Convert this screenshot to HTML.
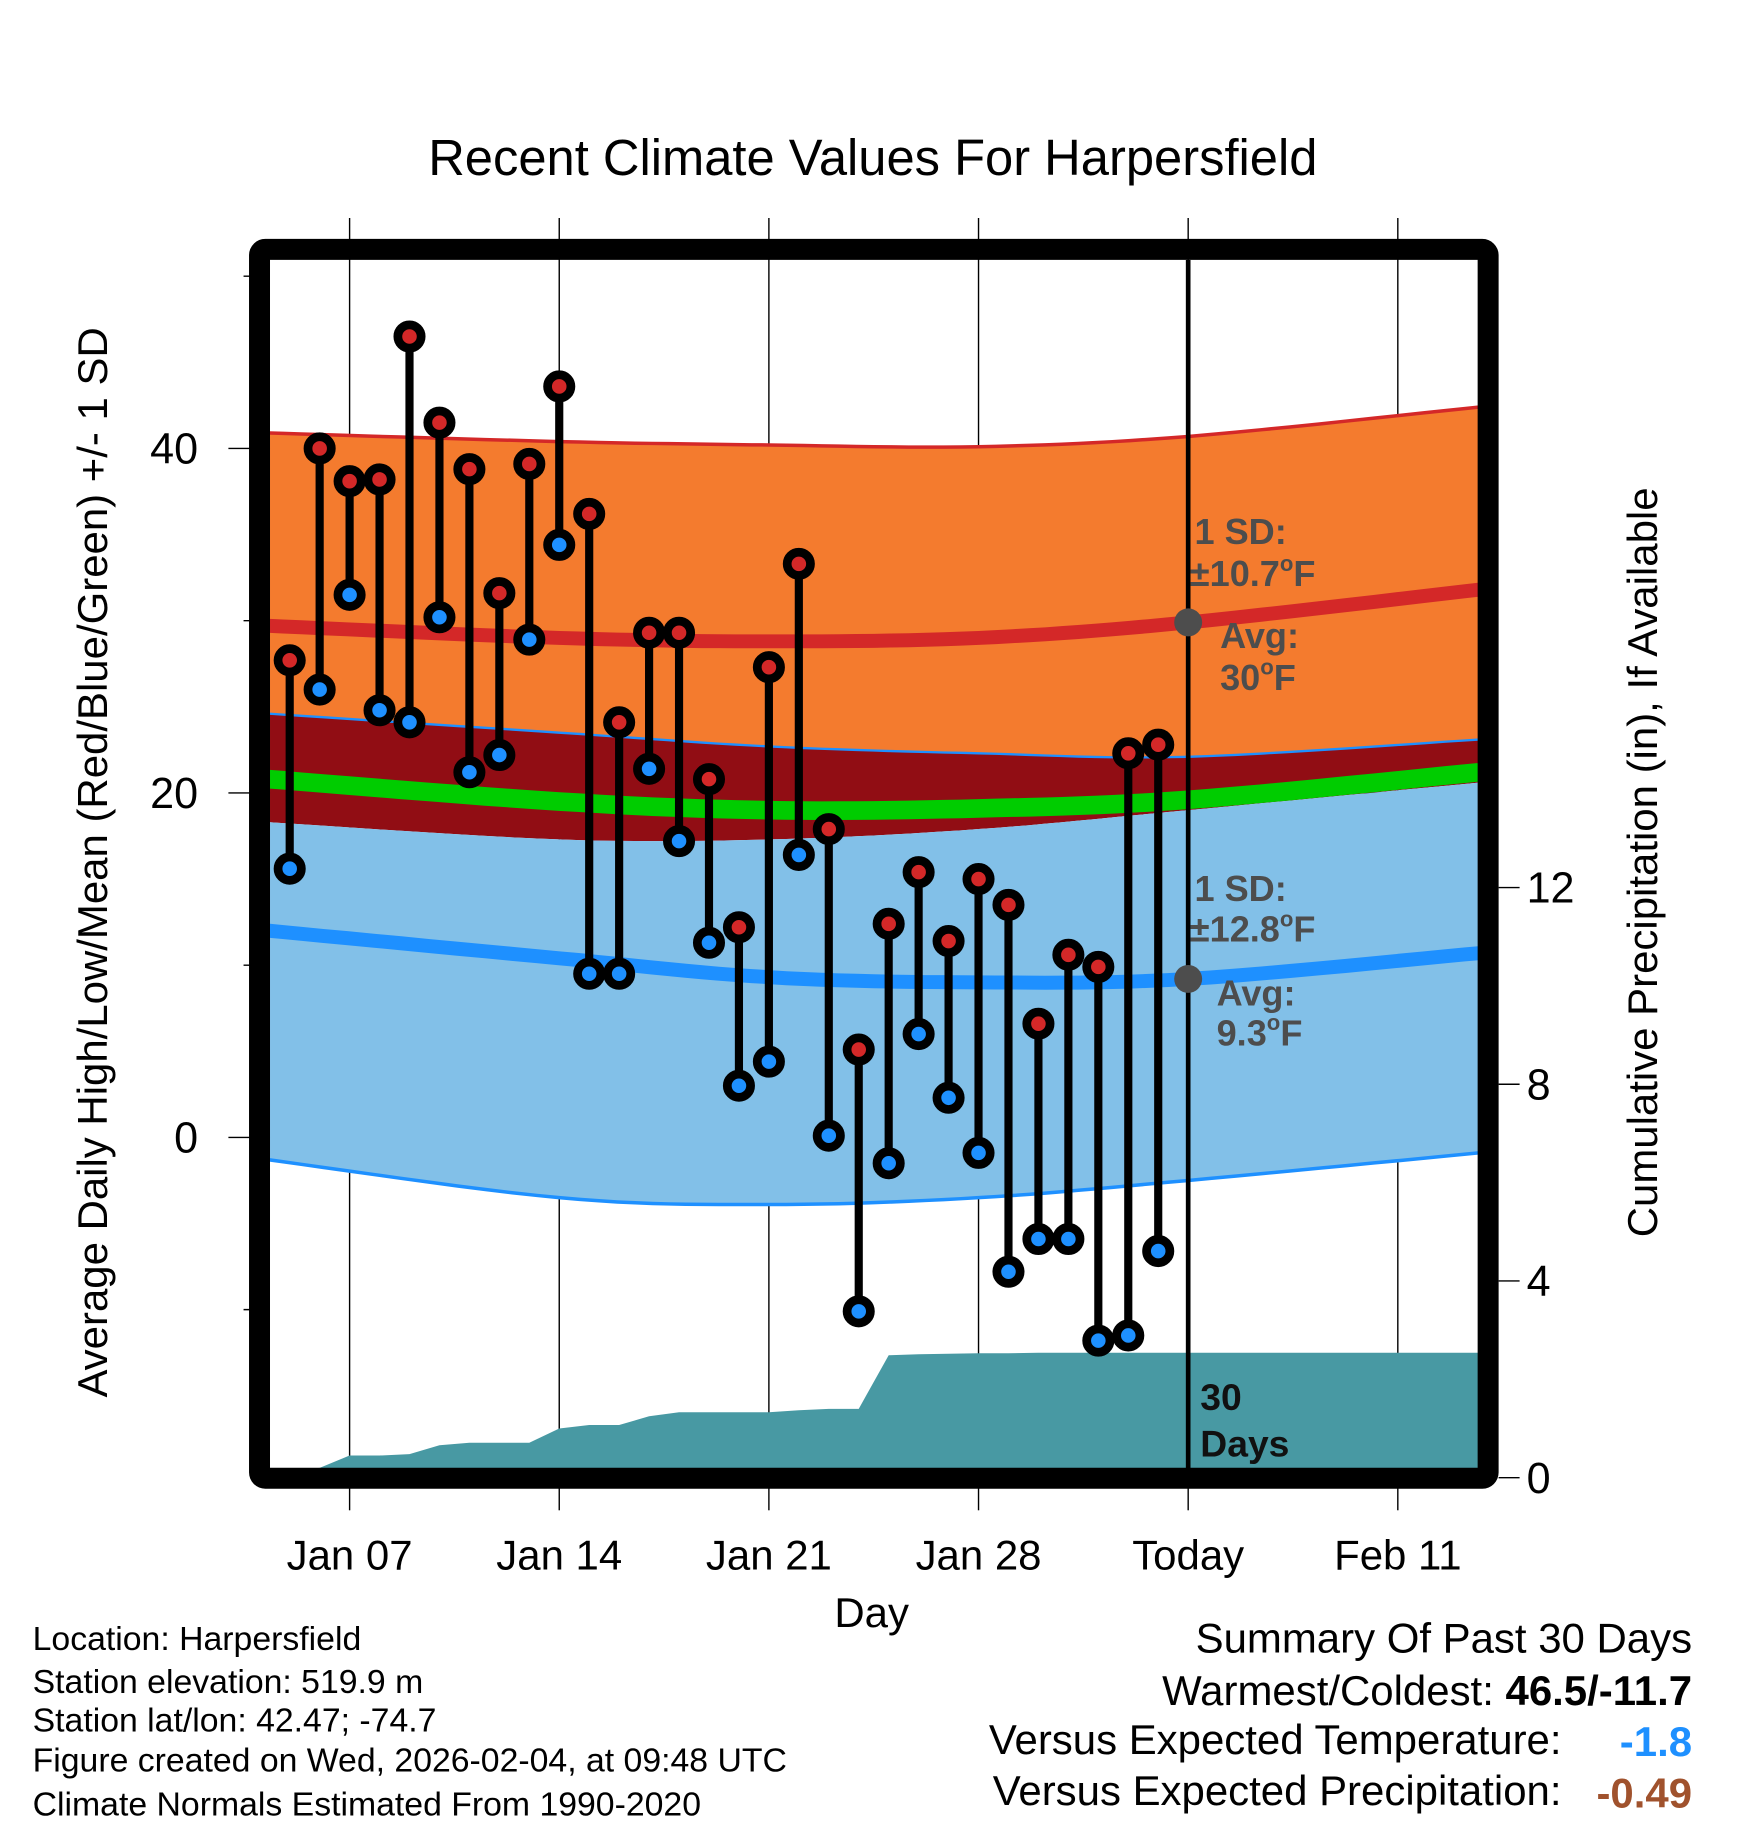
<!DOCTYPE html>
<html><head><meta charset="utf-8"><style>
html,body{margin:0;padding:0;background:#fff}
svg{display:block;font-family:"Liberation Sans",Arial,sans-serif}
</style></head><body>
<svg id="chart" width="1748" height="1828" viewBox="0 0 1500 1568.6" xmlns="http://www.w3.org/2000/svg">
<defs><clipPath id="plotclip"><rect x="231.7" y="223" width="1036.7" height="1037"/></clipPath></defs>
<text x="749" y="150" font-size="43.5" text-anchor="middle">Recent Climate Values For Harpersfield</text>
<g id="grid"></g>
<g id="plot" clip-path="url(#plotclip)"></g>
<g id="marks"></g>
<rect x="222.7" y="214" width="1054.3" height="1054.5" rx="5" fill="none" stroke="#000" stroke-width="18"/>
<g id="axes"></g>
<g font-weight="bold" fill="#4d4d4d" font-size="31">
<text x="1025" y="467">1 SD:</text>
<text x="1021" y="503">±10.7<tspan font-size="19" dy="-13">o</tspan><tspan dy="13">F</tspan></text>
<text x="1047" y="556">Avg:</text>
<text x="1047" y="592">30<tspan font-size="19" dy="-13">o</tspan><tspan dy="13">F</tspan></text>
</g>
<g font-weight="bold" fill="#4d4d4d" font-size="31">
<text x="1025" y="773">1 SD:</text>
<text x="1021" y="808">±12.8<tspan font-size="19" dy="-13">o</tspan><tspan dy="13">F</tspan></text>
<text x="1044" y="863">Avg:</text>
<text x="1044" y="897">9.3<tspan font-size="19" dy="-13">o</tspan><tspan dy="13">F</tspan></text>
</g>
<g font-weight="bold" font-size="32" fill="#111">
<text x="1030" y="1210">30</text><text x="1030" y="1250">Days</text>
</g>
<text x="748" y="1396" font-size="36" text-anchor="middle">Day</text>
<text transform="translate(92,740) rotate(-90)" font-size="36" text-anchor="middle">Average Daily High/Low/Mean (Red/Blue/Green) +/- 1 SD</text>
<text transform="translate(1422,740) rotate(-90)" font-size="36" text-anchor="middle">Cumulative Precipitation (in), If Available</text>
<g font-size="29">
<text x="28" y="1416">Location: Harpersfield</text>
<text x="28" y="1453">Station elevation: 519.9 m</text>
<text x="28" y="1486">Station lat/lon: 42.47; -74.7</text>
<text x="28" y="1520">Figure created on Wed, 2026-02-04, at 09:48 UTC</text>
<text x="28" y="1558">Climate Normals Estimated From 1990-2020</text>
</g>
<g font-size="36" text-anchor="end">
<text x="1452" y="1418">Summary Of Past 30 Days</text>
<text x="1452" y="1463">Warmest/Coldest: <tspan font-weight="bold">46.5/-11.7</tspan></text>
<text x="1340" y="1505">Versus Expected Temperature:</text>
<text x="1452" y="1507" font-weight="bold" fill="#1e90ff">-1.8</text>
<text x="1340" y="1549">Versus Expected Precipitation:</text>
<text x="1452" y="1551" font-weight="bold" fill="#a0522d">-0.49</text>
</g>
</svg>
<script>
const highs=[27.7,40.0,38.1,38.2,46.5,41.5,38.8,31.6,39.1,43.6,36.2,24.1,29.3,29.3,20.8,12.2,27.3,33.3,17.9,5.1,12.4,15.4,11.4,15.0,13.5,6.6,10.6,9.9,22.3,22.8];
const lows=[15.6,26.0,31.5,24.8,24.1,30.2,21.2,22.2,28.9,34.4,9.5,9.5,21.4,17.2,11.3,3.0,4.4,16.4,0.1,-10.1,-1.5,6.0,2.3,-0.9,-7.8,-5.9,-5.9,-11.8,-11.5,-6.6];
const precip=[0.15,0.2,0.45,0.45,0.48,0.66,0.71,0.71,0.71,1.0,1.07,1.07,1.25,1.33,1.33,1.33,1.33,1.37,1.4,1.4,2.49,2.51,2.52,2.53,2.53,2.54,2.54,2.54,2.54,2.54];
const normDays=[-2.7,7,14,21,28,37.7];
const highMean=[29.7,29.0,28.8,29.0,29.9,31.8];
const highPlus=[40.9,40.4,40.2,40.1,40.7,42.4];
const highMinus=[24.6,23.5,22.7,22.3,22.1,23.1];
const meanTemp=[20.8,19.5,19.0,19.1,19.6,21.2];
const lowPlus=[18.3,17.3,17.3,17.9,19.0,20.6];
const lowMean=[12.0,10.4,9.3,9.0,9.2,10.7];
const lowMinus=[-1.3,-3.5,-3.9,-3.5,-2.5,-0.9];
const xTickDays=[0,7,14,21,28,35];
const xTickLabels=["Jan 07","Jan 14","Jan 21","Jan 28","Today","Feb 11"];
const yTicks=[40,20,0];
const yMinor=[50,30,10,-10];
const pTicks=[0,4,8,12];
const firstDay=-2;

const NS="http://www.w3.org/2000/svg";
const X=d=>300+25.7*d;
const Y=t=>976-14.78*t;
const P=p=>1268-42.2*p;
function mk(tag,attrs,parent){const e=document.createElementNS(NS,tag);for(const k in attrs)e.setAttribute(k,attrs[k]);parent.appendChild(e);return e;}
function smooth(arr){
  const n=arr.length,out=[];
  const px=normDays.map(X),py=arr.map(Y);
  for(let i=0;i<n-1;i++){
    const x0=px[Math.max(i-1,0)],y0=py[Math.max(i-1,0)],x1=px[i],y1=py[i],x2=px[i+1],y2=py[i+1],x3=px[Math.min(i+2,n-1)],y3=py[Math.min(i+2,n-1)];
    for(let s=0;s<12;s++){const t=s/12,t2=t*t,t3=t2*t;
      const f=(a,b,c,d)=>0.5*((2*b)+(-a+c)*t+(2*a-5*b+4*c-d)*t2+(-a+3*b-3*c+d)*t3);
      out.push([f(x0,x1,x2,x3).toFixed(1),f(y0,y1,y2,y3).toFixed(1)]);}
  }
  out.push([px[n-1].toFixed(1),py[n-1].toFixed(1)]);
  return out;
}
const plot=document.getElementById('plot'),grid=document.getElementById('grid'),marks=document.getElementById('marks'),axes=document.getElementById('axes');
function band(top,bot,fill,name){
  const a=smooth(top),b=smooth(bot).reverse();
  const e=mk('polygon',{points:a.concat(b).map(p=>p.join(',')).join(' '),fill:fill},plot);
  
  
}
function line(arr,color,w,name){
  const e=mk('polyline',{points:smooth(arr).map(p=>p.join(',')).join(' '),fill:'none',stroke:color,'stroke-width':w},plot);
  
  
}
band(highPlus,highMinus,'#f47b2e','high-sd-band');
band(highMinus,lowPlus,'#910d14','overlap-band');
band(lowPlus,lowMinus,'#82c0e8','low-sd-band');
line(highPlus,'#d42828',3,'high-plus-sd-line');
line(highMinus,'#1e90ff',2,'high-minus-sd-line');
line(lowMinus,'#1e90ff',3,'low-minus-sd-line');
line(highMean,'#d42828',12,'high-mean-line');
line(lowMean,'#1e90ff',12,'low-mean-line');
line(meanTemp,'#00cc00',16,'mean-temp-line');
xTickDays.forEach((d,i)=>{
  const g=mk('line',{x1:X(d),x2:X(d),y1:187,y2:1260,stroke:'#000','stroke-width':1.2},grid);
  
  
  const t=mk('line',{x1:X(d),x2:X(d),y1:1277,y2:1296,stroke:'#000','stroke-width':1.2},axes);
  
  
  const l=mk('text',{x:X(d),y:1347,'font-size':36,'text-anchor':'middle'},axes);
  l.textContent=xTickLabels[i];
  
  
});
yTicks.forEach(v=>{
  const g=mk('line',{x1:196,x2:1268,y1:Y(v),y2:Y(v),stroke:'#000','stroke-width':1.2},grid);
  
  
  const l=mk('text',{x:170,y:Y(v)+13,'font-size':37,'text-anchor':'end'},axes);
  l.textContent=v;
  
  
});
yMinor.forEach(v=>{
  const t=mk('line',{x1:209,x2:231,y1:Y(v),y2:Y(v),stroke:'#000','stroke-width':1.2},axes);
  
  
});
pTicks.forEach(v=>{
  const t=mk('line',{x1:1286,x2:1304,y1:P(v),y2:P(v),stroke:'#000','stroke-width':1.2},axes);
  
  
  const l=mk('text',{x:1310,y:P(v)+13,'font-size':37},axes);
  l.textContent=v;
  
  
});
(function(){
  const p=[[X(firstDay),P(0)]];
  precip.forEach((v,i)=>p.push([X(firstDay+i),P(v)]));
  p.push([1268.4,P(precip[precip.length-1])],[1268.4,1268]);
  const e=mk('polygon',{points:p.map(q=>q.join(',')).join(' '),fill:'#4899a3'},plot);
  
  
})();
(function(){
  const e=mk('line',{x1:X(28),x2:X(28),y1:223,y2:1260,stroke:'#000','stroke-width':4},plot);
  
  
  const a=mk('circle',{cx:X(28),cy:Y(highMean[4]),r:12,fill:'#4d4d4d'},plot);
  
  
  const b=mk('circle',{cx:X(28),cy:Y(lowMean[4]),r:12,fill:'#4d4d4d'},plot);
  
  
})();
highs.forEach((h,i)=>{
  const x=X(firstDay+i);
  const s=mk('line',{x1:x,x2:x,y1:Y(h),y2:Y(lows[i]),stroke:'#000','stroke-width':7},marks);
  
  
  const c1=mk('circle',{cx:x,cy:Y(h),r:10,fill:'#d42828',stroke:'#000','stroke-width':7.5},marks);
  
  
  const c2=mk('circle',{cx:x,cy:Y(lows[i]),r:10,fill:'#1e90ff',stroke:'#000','stroke-width':7.5},marks);
  
  
});
</script>
</body></html>
